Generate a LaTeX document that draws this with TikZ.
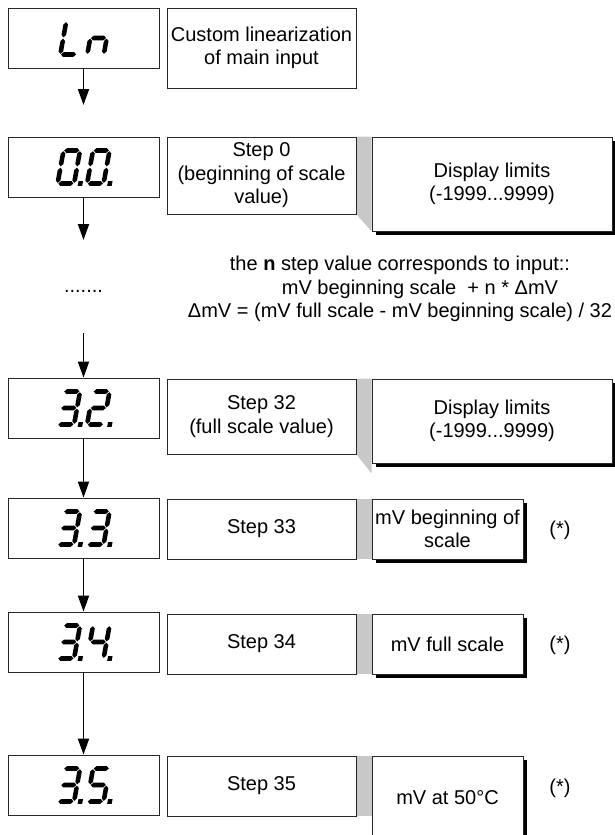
\documentclass[tikz,border=0pt]{standalone}
\usepackage{fontspec}
\setmainfont{Liberation Sans}
\usetikzlibrary{arrows.meta,shadows,calc}
\pgfdeclarelayer{background}
\pgfsetlayers{background,main}
\definecolor{conngrey}{RGB}{200,200,200}
\definecolor{boxline}{RGB}{40,40,40}
\newcommand\diafont{\fontsize{20}{23.5}\selectfont}
% seven-segment pieces (local units: pt, y up)
\newcommand\lcdh[1]{\fill (0.7,#1) -- (3.0,#1+2.3) -- (13.5,#1+2.3) -- (15.8,#1) -- (13.5,#1-2.3) -- (3.0,#1-2.3) -- cycle;}
\newcommand\lcdv[3]{\fill (#1,#2+0.7) -- (#1+2.3,#2+3.0) -- (#1+2.3,#3-3.0) -- (#1,#3-0.7) -- (#1-2.3,#3-3.0) -- (#1-2.3,#2+3.0) -- cycle;}
\newcommand\lcdsega{\lcdh{33}}
\newcommand\lcdsegb{\lcdv{16.5}{16.5}{33}}
\newcommand\lcdsegc{\lcdv{16.5}{0}{16.5}}
\newcommand\lcdsegd{\lcdh{0}}
\newcommand\lcdsege{\lcdv{0}{0}{16.5}}
\newcommand\lcdsegf{\lcdv{0}{16.5}{33}}
\newcommand\lcdsegg{\lcdh{16.5}}
\newcommand\lcdsegp{\fill (20.5,-2.3) rectangle (25,2.3);}
\newcommand\lcddigit[3]{%
  \begin{scope}[shift={(#1,#2)},x=1pt,y=1pt,xslant=0.18]
    \foreach \s in {#3}{\csname lcdseg\s\endcsname}
  \end{scope}}
\begin{document}
\begin{tikzpicture}[x=1pt,y=-1pt,
  lcdbox/.style={draw=boxline,line width=0.8pt,fill=white,minimum width=151pt,minimum height=60pt,inner sep=0pt},
  txtbox/.style={draw=boxline,line width=0.8pt,fill=white,align=center,inner sep=2pt,font=\diafont},
  shadowbox/.style={txtbox,drop shadow={shadow xshift=4pt,shadow yshift=-4pt,opacity=1,fill=black}},
  plaintext/.style={align=center,inner sep=0pt,font=\diafont},
  arr/.style={-{Triangle[length=16pt,width=11pt]},line width=1.9pt}]
\useasboundingbox (0,0) rectangle (614,835);

% row Ln
\node[lcdbox] (ln) at (83.5,38) {};
\node[txtbox,minimum width=189pt,minimum height=80pt] (cust) at (261.5,48) {Custom linearization\\of main input};
% row 0.0
\node[lcdbox] (d00) at (83.5,167) {};
\node[txtbox,minimum width=189pt,minimum height=77pt] (s0) at (261.5,175.5) {Step 0\\(beginning of scale\\value)};
\node[shadowbox,minimum width=240pt,minimum height=94pt] (dl1) at (492,184) {Display limits\\(-1999...9999)};
% note
\node[plaintext,anchor=base] (dots) at (83.5,292) {.......};
\node[plaintext] (note) at (400,289) {the \textbf{n} step value corresponds to input::\\\hspace*{40pt}mV beginning scale\ \ + n * ΔmV\\ΔmV = (mV full scale - mV beginning scale) / 32};
% row 3.2
\node[lcdbox] (d32) at (83.5,408) {};
\node[txtbox,minimum width=189pt,minimum height=75pt] (s32) at (261.5,416.5) {Step 32\\(full scale value)};
\node[shadowbox,minimum width=240pt,minimum height=84pt] (dl2) at (492,421) {Display limits\\(-1999...9999)};
% row 3.3
\node[lcdbox] (d33) at (83.5,528) {};
\node[txtbox,minimum width=189pt,minimum height=60pt] (s33) at (261.5,529) {Step 33};
\node[shadowbox,minimum width=151pt,minimum height=60pt] (m33) at (447.5,529) {mV beginning of\\scale};
\node[plaintext] (st33) at (560,530) {(*)};
% row 3.4
\node[lcdbox] (d34) at (83.5,642) {};
\node[txtbox,minimum width=189pt,minimum height=60pt] (s34) at (261.5,644) {Step 34};
\node[shadowbox,minimum width=151pt,minimum height=60pt] (m34) at (447.5,644) {mV full scale};
\node[plaintext] (st34) at (560,645) {(*)};
% row 3.5
\node[lcdbox] (d35) at (83.5,785) {};
\node[txtbox,minimum width=189pt,minimum height=60pt] (s35) at (261.5,786) {Step 35};
\node[shadowbox,minimum width=151pt,minimum height=84pt] (m35) at (447.5,798) {mV at 50°C};
\node[plaintext] (st35) at (560,788) {(*)};

% grey connectors
\begin{pgfonlayer}{background}
\fill[conngrey] (s0.north east) -- (dl1.north west) -- (dl1.south west) -- (s0.south east) -- cycle;
\fill[conngrey] (s32.north east) -- (dl2.north west) -- ($(dl2.south west)+(0,10)$) -- (s32.south east) -- cycle;
\fill[conngrey] (s33.north east) rectangle (s33.south east -| m33.west);
\fill[conngrey] (s34.north east) rectangle (s34.south east -| m34.west);
\fill[conngrey] (s35.north east) rectangle (s35.south east -| m35.west);
\end{pgfonlayer}

% seven-segment readouts
\lcddigit{60.3}{54.5}{f,e,d}
\lcddigit{87.3}{54.5}{e,g,c}
\lcddigit{57.6}{183.5}{a,b,c,d,e,f,p}
\lcddigit{87.1}{183.5}{a,b,c,d,e,f,p}
\lcddigit{57.6}{424.5}{a,b,c,d,g,p}
\lcddigit{87.1}{424.5}{a,b,g,e,d,p}
\lcddigit{57.6}{544.5}{a,b,c,d,g,p}
\lcddigit{87.1}{544.5}{a,b,c,d,g,p}
\lcddigit{57.6}{658.5}{a,b,c,d,g,p}
\lcddigit{87.1}{658.5}{f,g,b,c,p}
\lcddigit{57.6}{801.5}{a,b,c,d,g,p}
\lcddigit{87.1}{801.5}{a,f,g,c,d,p}

% arrows
\coordinate (e1) at (83.5,105);
\coordinate (e2) at (83.5,240);
\coordinate (b3) at (83.5,333);
\draw[arr] (ln.south) -- (e1);
\draw[arr] (d00.south) -- (e2);
\draw[arr] (b3) -- (d32.north);
\draw[arr] (d32.south) -- (d33.north);
\draw[arr] (d33.south) -- (d34.north);
\draw[arr] (d34.south) -- (d35.north);
\end{tikzpicture}
\end{document}
